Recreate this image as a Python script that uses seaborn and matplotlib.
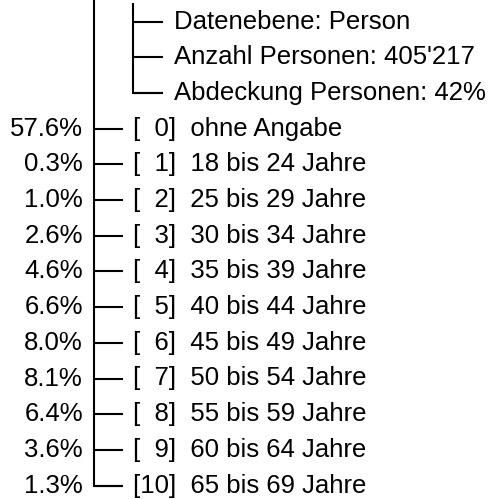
import matplotlib
matplotlib.use("Agg")
import matplotlib.pyplot as plt
import seaborn as sns

# tree data
info_lines = [
    "Datenebene: Person",
    "Anzahl Personen: 405'217",
    "Abdeckung Personen: 42%",
]
codes = list(range(11))
categories = [
    "ohne Angabe",
    "18 bis 24 Jahre",
    "25 bis 29 Jahre",
    "30 bis 34 Jahre",
    "35 bis 39 Jahre",
    "40 bis 44 Jahre",
    "45 bis 49 Jahre",
    "50 bis 54 Jahre",
    "55 bis 59 Jahre",
    "60 bis 64 Jahre",
    "65 bis 69 Jahre",
]
shares = [57.6, 0.3, 1.0, 2.6, 4.6, 6.6, 8.0, 8.1, 6.4, 3.6, 1.3]

sns.set_theme(style="white")
plt.rcParams["font.family"] = ["Liberation Sans", "DejaVu Sans"]

fig = plt.figure(figsize=(4.97, 4.99), dpi=100)
ax = fig.add_axes([0, 0, 1, 1])
ax.set_xlim(0, 497)
ax.set_ylim(499, 0)
ax.axis("off")

# layout (pixels)
row0 = 21.5
step = 35.7
main_x = 94
inner_x = 133
fs = 18.5
lw = 1.5
col = "black"
line_kw = dict(color=col, lw=lw, solid_capstyle="butt", solid_joinstyle="miter")

n_info = len(info_lines)
rows = [row0 + step * i for i in range(n_info + len(categories))]

# info branch
ax.plot([inner_x, inner_x, inner_x + 30], [3, rows[n_info - 1], rows[n_info - 1]], **line_kw)
for i, txt in enumerate(info_lines):
    y = rows[i]
    ax.plot([inner_x, inner_x + 30], [y, y], **line_kw)
    ax.text(inner_x + 41, y, txt, fontsize=fs, va="center", ha="left", color=col)

# main branch
ax.plot([main_x, main_x, main_x + 29], [0, rows[-1], rows[-1]], **line_kw)
for k, (c, name, p) in enumerate(zip(codes, categories, shares)):
    y = rows[n_info + k]
    ax.plot([main_x, main_x + 29], [y, y], **line_kw)
    code = str(c).rjust(2).replace(" ", "  ")
    ax.text(main_x + 39, y, f"[{code}]  {name}", fontsize=fs,
            va="center", ha="left", color=col)
    ax.text(main_x - 11, y, f"{p:.1f}%", fontsize=fs,
            va="center", ha="right", color=col)

fig.savefig("out.png", dpi=100)
